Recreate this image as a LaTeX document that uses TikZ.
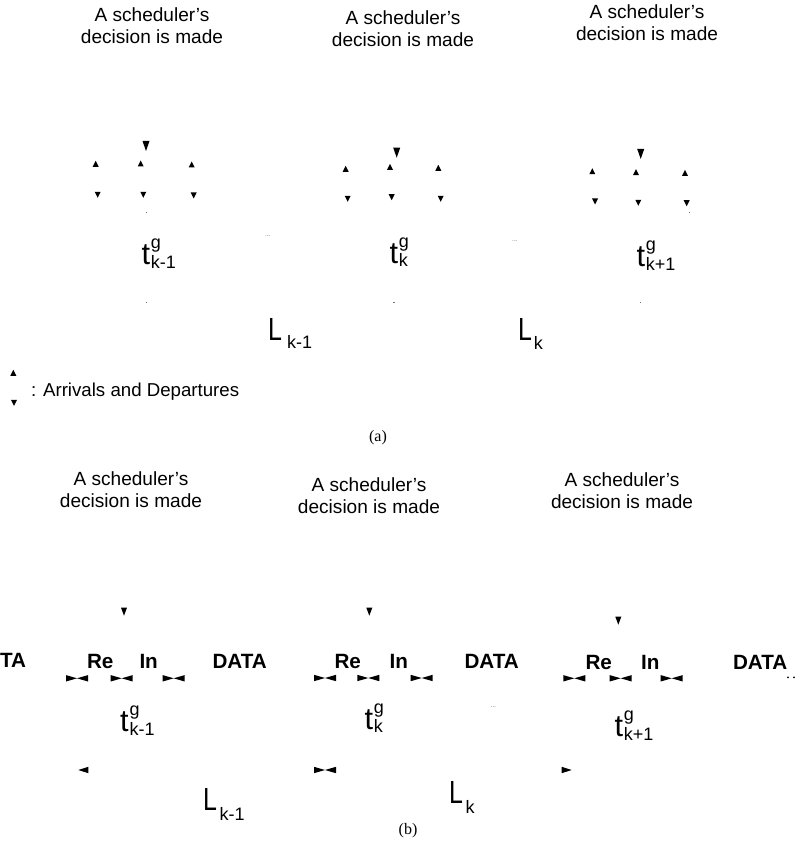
\documentclass[tikz,border=0pt]{standalone}
\usepackage{graphicx}
\usepackage{fontspec}
\setmainfont{Liberation Sans}
\newfontfamily\capfont{Liberation Serif}

% t^g with a subscript, in a sans face
\newcommand\tgl[1]{{\fontsize{23}{23}\selectfont t}\kern0.6pt%
  \rlap{\raisebox{12pt}{\fontsize{13.5}{13.5}\selectfont g}}%
  \raisebox{-2.6pt}{\fontsize{13.5}{13.5}\selectfont #1}}
% narrow L with a lowered subscript
\newcommand\Lsub[3]{{\fontsize{24}{24}\selectfont\scalebox{0.78}[1]{L}}\kern#1%
  \raisebox{-#2}{\fontsize{13.5}{13.5}\selectfont #3}}

\tikzset{
  every node/.style={inner sep=0pt, outer sep=0pt},
  % two-line notes are anchored at the baseline of their last line
  note/.style={font=\fontsize{14.3}{16.5}\selectfont, align=center, anchor=base},
  tlab/.style={anchor=base west},
  field/.style={font=\fontsize{15.5}{15.5}\selectfont\bfseries, anchor=base west},
  legend/.style={font=\fontsize{14}{14}\selectfont, anchor=base west},
  caption/.style={font=\capfont\fontsize{12}{12}\selectfont, anchor=base},
  ellip/.style={font=\fontsize{5}{5}\selectfont, text=black!55},
  speck/.style={fill=black!55},
  arr/.pic={\fill (-3,2.5) -- (3,2.5) -- (0,-3.5) -- cycle;},
  dep/.pic={\fill (-3,-2.5) -- (3,-2.5) -- (0,3.5) -- cycle;},
  dec/.pic={\fill (-3.5,-5) -- (3.5,-5) -- (0,5) -- cycle;},
  decb/.pic={\fill (-3,-4) -- (3,-4) -- (0,4) -- cycle;},
  bow/.pic={\fill (-11,-3.2) -- (-11,3.2) -- (0,0) -- cycle;
            \fill (11,-3.2) -- (11,3.2) -- (0,0) -- cycle;},
  ltri/.pic={\fill (5,-3.2) -- (5,3.2) -- (-5,0) -- cycle;},
  rtri/.pic={\fill (-5,-3.2) -- (-5,3.2) -- (5,0) -- cycle;},
}

\begin{document}
\begin{tikzpicture}[x=0.75pt,y=-0.75pt]
\useasboundingbox (0,0) rectangle (799,855);

% ---------------- (a) ----------------
\node[note] (da1) at (152,43.5) {A scheduler's\\decision is made};
\node[note] (da2) at (403,47) {A scheduler's\\decision is made};
\node[note] (da3) at (647,40.5) {A scheduler's\\decision is made};

% decision instants
\pic at (146,146) {dec};
\pic at (396.7,152.7) {dec};
\pic at (640.7,154) {dec};

% arrivals
\pic at (95.7,164.3) {arr};
\pic at (140.7,164) {arr};
\pic at (191.7,165) {arr};
\pic at (345.7,169.3) {arr};
\pic at (390,167.3) {arr};
\pic at (438.3,168.3) {arr};
\pic at (592.3,171.7) {arr};
\pic at (636,172.7) {arr};
\pic at (685,173.3) {arr};

% departures
\pic at (97.7,194.3) {dep};
\pic at (143.3,194.3) {dep};
\pic at (193.7,195) {dep};
\pic at (347.7,198.3) {dep};
\pic at (391.7,196.7) {dep};
\pic at (440.7,198.3) {dep};
\pic at (595,201) {dep};
\pic at (638.3,202.3) {dep};
\pic at (686.7,202.7) {dep};

% faint specks
\fill[speck] (145.6,211.6) rectangle (147,213);
\fill[speck] (688.6,212) rectangle (690,213.4);
\fill[speck] (145.6,302) rectangle (147,303.4);
\fill[speck] (392.8,302) rectangle (395.2,303.4);
\fill[speck] (640,302) rectangle (641.4,303.4);

% time labels
\node[tlab] (ta1) at (141.5,265) {\tgl{k-1}};
\node[tlab] (ta2) at (389.5,263) {\tgl{k}};
\node[tlab] (ta3) at (636.5,267) {\tgl{k+1}};

\node[ellip] (ea1) at (268,236) {...};
\node[ellip] (ea2) at (515,241) {...};

% frame lengths
\node[anchor=base west] (la1) at (268,340) {\Lsub{4pt}{6pt}{k-1}};
\node[anchor=base west] (la2) at (518,340) {\Lsub{1.5pt}{6.8pt}{k}};

% legend
\pic at (13.3,373.3) {arr};
\pic at (14,402.3) {dep};
\node[legend] (lg) at (31,396.7) {: Arrivals and Departures};

\node[caption] (capa) at (378,441) {(a)};

% ---------------- (b) ----------------
\node[note] (db1) at (131,507) {A scheduler's\\decision is made};
\node[note] (db2) at (369,513) {A scheduler's\\decision is made};
\node[note] (db3) at (622,508.5) {A scheduler's\\decision is made};

\pic at (124,611.7) {decb};
\pic at (369.3,611.7) {decb};
\pic at (618.3,620.7) {decb};

% frame fields
\node[field] (f0) at (0,667.5) {TA};
\node[field] (r1) at (87,668) {Re};
\node[field] (i1) at (139.5,668) {In};
\node[field] (d1) at (212.5,668) {DATA};
\node[field] (r2) at (334.5,668.3) {Re};
\node[field] (i2) at (389.5,668.3) {In};
\node[field] (d2) at (464.5,668.3) {DATA};
\node[field] (r3) at (585.5,669) {Re};
\node[field] (i3) at (641,669) {In};
\node[field] (d3) at (733,669) {DATA};
\fill (788,677.3) circle (1);
\fill (794,677.3) circle (1);

% field boundaries
\pic at (77,678.3) {bow};
\pic at (121.7,678.3) {bow};
\pic at (173.7,678.3) {bow};
\pic at (325,678) {bow};
\pic at (368.3,678) {bow};
\pic at (421.7,678) {bow};
\pic at (574.3,678.3) {bow};
\pic at (620.7,678.3) {bow};
\pic at (671.7,678.3) {bow};

\node[tlab] (tb1) at (120.2,731.7) {\tgl{k-1}};
\node[tlab] (tb2) at (364.5,729.3) {\tgl{k}};
\node[tlab] (tb3) at (614.5,736.7) {\tgl{k+1}};

\node[ellip] (eb1) at (493.3,706.7) {...};

\pic at (83.3,770) {ltri};
\pic at (325,770) {bow};
\pic at (566.7,770) {rtri};

\node[anchor=base west] (lb1) at (203,810) {\Lsub{2pt}{8pt}{k-1}};
\node[anchor=base west] (lb2) at (449,803.3) {\Lsub{2pt}{8pt}{k}};

\node[caption] (capb) at (408,834) {(b)};
\end{tikzpicture}
\end{document}
